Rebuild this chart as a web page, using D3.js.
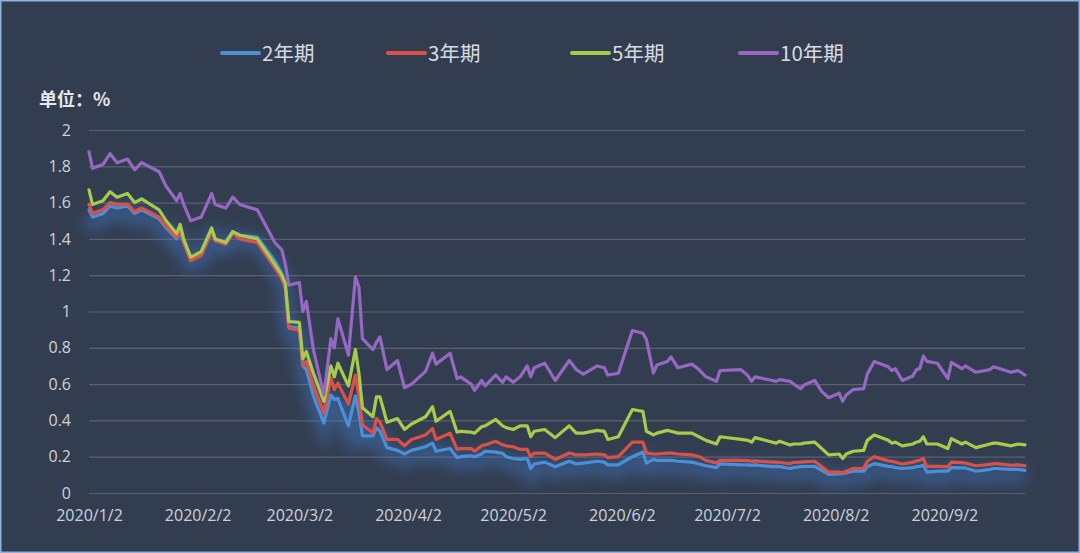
<!DOCTYPE html>
<html>
<head>
<meta charset="utf-8">
<script src="https://cdn.jsdelivr.net/npm/d3@7"></script>
<style>
  html, body { margin: 0; padding: 0; background: #333d50; }
  svg { display: block; }
</style>
</head>
<body>
<div id="chart"></div>
<script>
// data (yields, %)
var dates = [
  "2020-01-02","2020-01-03","2020-01-06","2020-01-08","2020-01-10","2020-01-13","2020-01-15","2020-01-17","2020-01-22","2020-01-24","2020-01-27","2020-01-28","2020-01-29","2020-01-31",
  "2020-02-03","2020-02-06","2020-02-07","2020-02-10","2020-02-12","2020-02-14","2020-02-19","2020-02-24","2020-02-26","2020-02-27","2020-02-28",
  "2020-03-02","2020-03-03","2020-03-04","2020-03-06","2020-03-09","2020-03-11","2020-03-12","2020-03-13","2020-03-16","2020-03-18","2020-03-19","2020-03-20","2020-03-23","2020-03-24","2020-03-25","2020-03-27","2020-03-30",
  "2020-04-01","2020-04-03","2020-04-07","2020-04-09","2020-04-10","2020-04-14","2020-04-16","2020-04-17","2020-04-20","2020-04-21","2020-04-23","2020-04-24","2020-04-27","2020-04-29","2020-04-30",
  "2020-05-02","2020-05-04","2020-05-06","2020-05-07","2020-05-08","2020-05-11","2020-05-14","2020-05-18","2020-05-20","2020-05-22","2020-05-26","2020-05-28","2020-05-29",
  "2020-06-01","2020-06-05","2020-06-08","2020-06-09","2020-06-11","2020-06-12","2020-06-15","2020-06-16","2020-06-18","2020-06-22","2020-06-24","2020-06-26","2020-06-29","2020-06-30",
  "2020-07-06","2020-07-08","2020-07-09","2020-07-10","2020-07-15","2020-07-16","2020-07-17","2020-07-20","2020-07-21","2020-07-23","2020-07-24","2020-07-27","2020-07-29","2020-07-31",
  "2020-08-03","2020-08-04","2020-08-05","2020-08-07","2020-08-10","2020-08-11","2020-08-13","2020-08-17","2020-08-18","2020-08-19","2020-08-21","2020-08-24","2020-08-25","2020-08-26","2020-08-27","2020-08-28","2020-08-31",
  "2020-09-03","2020-09-04","2020-09-07","2020-09-08","2020-09-11","2020-09-15","2020-09-16","2020-09-17","2020-09-21","2020-09-23","2020-09-25"
];

var y2 = [
  1.56,1.52,1.54,1.58,1.57,1.58,1.54,1.56,1.51,1.46,1.40,1.43,1.38,1.29,
  1.31,1.44,1.40,1.38,1.44,1.42,1.41,1.28,1.21,1.135,0.915,
  0.91,0.70,0.68,0.535,0.385,0.54,0.515,0.52,0.37,0.535,0.44,0.315,0.315,0.36,0.34,0.25,0.235,
  0.215,0.235,0.255,0.275,0.23,0.245,0.195,0.20,0.205,0.20,0.215,0.23,0.225,0.218,0.20,
  0.19,0.185,0.19,0.135,0.16,0.17,0.145,0.175,0.16,0.165,0.175,0.17,0.155,
  0.155,0.20,0.225,0.165,0.185,0.18,0.18,0.18,0.175,0.17,0.16,0.15,0.14,0.16,
  0.155,0.155,0.152,0.155,0.145,0.147,0.145,0.135,0.14,0.145,0.146,0.147,0.125,0.103,
  0.105,0.107,0.11,0.12,0.12,0.145,0.162,0.147,0.145,0.14,0.135,0.14,0.145,0.147,0.153,0.115,0.12,
  0.12,0.14,0.138,0.138,0.12,0.13,0.135,0.135,0.13,0.13,0.125
];

var y3 = [
  1.59,1.54,1.56,1.60,1.59,1.59,1.55,1.57,1.52,1.47,1.41,1.44,1.385,1.28,
  1.31,1.44,1.39,1.37,1.43,1.40,1.38,1.24,1.18,1.13,0.91,
  0.895,0.705,0.725,0.59,0.44,0.635,0.57,0.605,0.49,0.65,0.53,0.375,0.33,0.41,0.39,0.295,0.295,
  0.26,0.295,0.32,0.355,0.295,0.33,0.24,0.245,0.245,0.23,0.26,0.265,0.285,0.265,0.26,
  0.255,0.24,0.24,0.20,0.22,0.22,0.185,0.22,0.21,0.21,0.215,0.21,0.195,
  0.20,0.28,0.28,0.22,0.215,0.215,0.22,0.22,0.215,0.21,0.20,0.18,0.165,0.18,
  0.18,0.178,0.175,0.177,0.17,0.17,0.168,0.162,0.168,0.17,0.172,0.175,0.145,0.115,
  0.115,0.11,0.12,0.135,0.135,0.175,0.20,0.177,0.175,0.17,0.16,0.17,0.177,0.18,0.19,0.147,0.147,
  0.145,0.17,0.167,0.165,0.15,0.158,0.162,0.162,0.153,0.155,0.15
];

var y5 = [
  1.67,1.59,1.61,1.66,1.63,1.65,1.60,1.62,1.56,1.50,1.43,1.48,1.40,1.30,
  1.33,1.46,1.40,1.38,1.44,1.42,1.40,1.26,1.20,1.155,0.945,
  0.94,0.74,0.78,0.66,0.505,0.70,0.64,0.715,0.59,0.79,0.66,0.47,0.42,0.53,0.53,0.39,0.41,
  0.35,0.38,0.42,0.475,0.395,0.45,0.335,0.34,0.335,0.33,0.365,0.37,0.405,0.37,0.36,
  0.35,0.37,0.37,0.31,0.34,0.35,0.305,0.37,0.33,0.33,0.345,0.34,0.295,
  0.31,0.46,0.45,0.34,0.32,0.33,0.345,0.34,0.33,0.33,0.31,0.29,0.27,0.31,
  0.295,0.29,0.28,0.305,0.28,0.275,0.285,0.265,0.27,0.27,0.275,0.28,0.245,0.21,
  0.215,0.19,0.215,0.23,0.235,0.29,0.32,0.29,0.275,0.28,0.26,0.27,0.28,0.285,0.31,0.27,0.27,
  0.245,0.30,0.27,0.28,0.25,0.27,0.275,0.275,0.26,0.27,0.265
];

var y10 = [
  1.88,1.79,1.81,1.87,1.82,1.84,1.78,1.82,1.77,1.69,1.61,1.65,1.59,1.50,
  1.52,1.65,1.59,1.57,1.63,1.59,1.56,1.38,1.34,1.26,1.145,
  1.16,1.00,1.055,0.79,0.54,0.85,0.80,0.96,0.76,1.19,1.135,0.85,0.79,0.83,0.86,0.68,0.73,
  0.58,0.60,0.67,0.77,0.71,0.77,0.63,0.64,0.60,0.565,0.62,0.59,0.65,0.61,0.64,
  0.61,0.64,0.70,0.64,0.69,0.715,0.62,0.73,0.68,0.655,0.70,0.69,0.65,
  0.66,0.895,0.88,0.845,0.66,0.705,0.725,0.75,0.69,0.71,0.68,0.64,0.615,0.675,
  0.68,0.645,0.615,0.64,0.62,0.615,0.625,0.615,0.60,0.575,0.595,0.62,0.56,0.525,
  0.55,0.505,0.54,0.57,0.575,0.655,0.725,0.695,0.675,0.685,0.62,0.645,0.68,0.685,0.755,0.725,0.715,
  0.63,0.72,0.685,0.70,0.665,0.68,0.695,0.69,0.665,0.675,0.65
];

var seriesNames = ["2年期", "3年期", "5年期", "10年期"];
var seriesColors = ["#4b8fd8", "#dc5147", "#a7cb4b", "#9668c4"];
var xTicks = ["2020-01-02","2020-02-02","2020-03-02","2020-04-02","2020-05-02","2020-06-02","2020-07-02","2020-08-02","2020-09-02"];
var yTicks = [0, 0.2, 0.4, 0.6, 0.8, 1, 1.2, 1.4, 1.6, 1.8, 2];
var unitLabel = "单位：%";

var width = 1080;
var height = 553;
var plotLeft = 89, plotRight = 1025, plotTop = 130, plotBottom = 493;
var legendX = [222, 388, 572, 740];

var parse = d3.timeParse("%Y-%m-%d");
var fmt = d3.timeFormat("%Y/%-m/%-d");
var series = [y2, y3, y5, y10];

var svg = d3.select("#chart").append("svg")
    .attr("width", width)
    .attr("height", height)
    .attr("xmlns", "http://www.w3.org/2000/svg");

var glow = svg.append("defs").append("filter")
    .attr("id", "glow")
    .attr("x", "-10%").attr("y", "-30%")
    .attr("width", "120%").attr("height", "160%");
glow.append("feGaussianBlur").attr("stdDeviation", 7);

svg.append("rect")
    .attr("x", 0.75).attr("y", 0.75)
    .attr("width", width - 1.5).attr("height", height - 1.5)
    .style("fill", "#333d50")
    .style("stroke", "#8cb2e0")
    .style("stroke-width", 1.5);

var x = d3.scaleTime()
    .domain([parse(dates[0]), parse(dates[dates.length - 1])])
    .range([plotLeft, plotRight]);

var y = d3.scaleLinear()
    .domain([0, 2])
    .range([plotBottom, plotTop]);

// grid + y labels
var yAxis = d3.axisLeft(y)
    .tickValues(yTicks)
    .tickSize(-(plotRight - plotLeft))
    .tickPadding(18)
    .tickFormat(d3.format("~g"));

var gy = svg.append("g")
    .attr("transform", "translate(" + plotLeft + ",0)")
    .call(yAxis);
gy.select(".domain").remove();
gy.selectAll(".tick line")
    .style("stroke", "#5b616c")
    .style("stroke-width", 1.2);
gy.selectAll(".tick text")
    .style("fill", "#ced2d8")
    .style("font-family", "'Open Sans', 'Noto Sans', sans-serif")
    .style("font-size", "16px");

// x labels
var xAxis = d3.axisBottom(x)
    .tickValues(xTicks.map(parse))
    .tickSize(0)
    .tickPadding(17)
    .tickFormat(fmt);

var gx = svg.append("g")
    .attr("transform", "translate(0," + plotBottom + ")")
    .call(xAxis);
gx.select(".domain").remove();
gx.selectAll(".tick text")
    .style("fill", "#ced2d8")
    .style("font-family", "'Open Sans', 'Noto Sans', sans-serif")
    .style("font-size", "16px");

svg.append("text")
    .attr("x", 39)
    .attr("y", 106)
    .text(unitLabel)
    .style("fill", "#e6e8eb")
    .style("font-family", "'Noto Sans CJK SC', sans-serif")
    .style("font-weight", "bold")
    .style("font-size", "18px");

var line = d3.line()
    .x(function(d, i){ return x(parse(dates[i])); })
    .y(function(d){ return y(d); });

// soft blue glow under the short-end curve
svg.append("path")
    .datum(y2)
    .attr("d", line)
    .attr("transform", "translate(0,6)")
    .attr("filter", "url(#glow)")
    .style("fill", "none")
    .style("stroke", "#3f7fd0")
    .style("stroke-width", 14)
    .style("stroke-opacity", 0.45);

for (var s = 0; s < series.length; s++) {
    svg.append("path")
        .datum(series[s])
        .attr("d", line)
        .style("fill", "none")
        .style("stroke", seriesColors[s])
        .style("stroke-width", 3.2)
        .style("stroke-linejoin", "round")
        .style("stroke-linecap", "round");
}

// legend
for (var k = 0; k < seriesNames.length; k++) {
    svg.append("line")
        .attr("x1", legendX[k])
        .attr("y1", 53)
        .attr("x2", legendX[k] + 37)
        .attr("y2", 53)
        .style("stroke", seriesColors[k])
        .style("stroke-width", 4)
        .style("stroke-linecap", "round");
    svg.append("text")
        .attr("x", legendX[k] + 40)
        .attr("y", 61)
        .text(seriesNames[k])
        .style("fill", "#d8dbe0")
        .style("font-family", "'Noto Sans CJK SC', sans-serif")
        .style("font-size", "20.5px");
}
</script>
</body>
</html>
